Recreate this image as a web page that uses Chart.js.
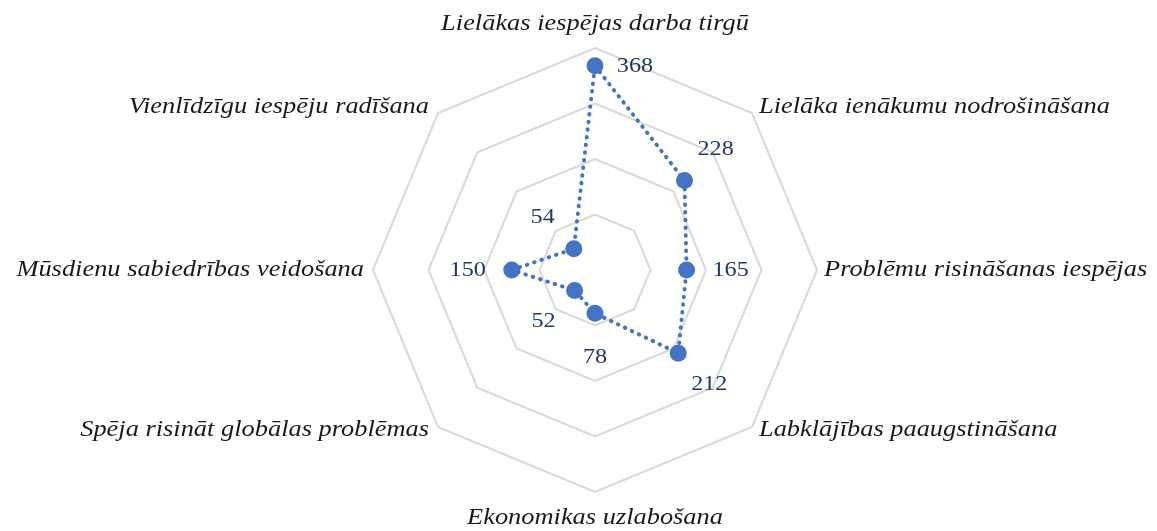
<!DOCTYPE html>
<html lang="lv">
<head>
  <meta charset="UTF-8" />
  <title>Radara diagramma</title>
  <script src="https://cdn.jsdelivr.net/npm/chart.js"></script>
  <style>
    body { margin: 0; background: #fff; }
    canvas { display: block; }
  </style>
</head>
<body>
  <canvas id="grafico" width="1157" height="531"></canvas>

<script>
const categorias = [
  'Lielākas iespējas darba tirgū',
  'Lielāka ienākumu nodrošināšana',
  'Problēmu risināšanas iespējas',
  'Labklājības paaugstināšana',
  'Ekonomikas uzlabošana',
  'Spēja risināt globālas problēmas',
  'Mūsdienu sabiedrības veidošana',
  'Vienlīdzīgu iespēju radīšana'
];
const valores = [368, 228, 165, 212, 78, 52, 150, 54];
const escalaMax = 400;
const escalaPasso = 100;

// texto um pouco esticado na horizontal, como na imagem original
function textoEsticado(ctx, texto, x, y, alinh) {
  ctx.save();
  ctx.translate(x, y);
  ctx.scale(1.1, 1);
  ctx.textAlign = alinh;
  ctx.textBaseline = 'middle';
  ctx.fillText(texto, 0, 0);
  ctx.restore();
}

// nomes das categorias em volta do octogono
const rotulosCategorias = {
  id: 'rotulosCategorias',
  afterDraw(chart) {
    const r = chart.scales.r;
    const ctx = chart.ctx;
    ctx.save();
    ctx.font = 'italic 24px "Liberation Serif"';
    ctx.fillStyle = '#1a1a1a';
    categorias.forEach((texto, i) => {
      const p = r.getPointPosition(i, r.drawingArea);
      const dx = p.x - r.xCenter;
      const dy = p.y - r.yCenter;
      let x = p.x, y = p.y, alinh = 'center';
      if (Math.abs(dx) < 1) {
        y = dy < 0 ? p.y - 24 : p.y + 26;
      } else {
        x = dx > 0 ? p.x + 7 : p.x - 9;
        alinh = dx > 0 ? 'left' : 'right';
        if (dy < -1) y = p.y - 6;
        if (dy > 1) y = p.y + 3;
      }
      textoEsticado(ctx, texto, x, y, alinh);
    });
    ctx.restore();
  }
};

// rotulos dos valores, empurrados para fora do centro
const rotulosValores = {
  id: 'rotulosValores',
  afterDatasetsDraw(chart) {
    const ctx = chart.ctx;
    const meta = chart.getDatasetMeta(0);
    const r = chart.scales.r;
    ctx.save();
    ctx.font = '22px "Liberation Serif"';
    ctx.fillStyle = '#1F3864';
    meta.data.forEach((ponto, i) => {
      const dx = ponto.x - r.xCenter;
      const dy = ponto.y - r.yCenter;
      const dist = Math.sqrt(dx * dx + dy * dy) || 1;
      let x = ponto.x + dx / dist * 44;
      let y = ponto.y + dy / dist * 44;
      if (i === 0) { x = ponto.x + 40; y = ponto.y; }
      textoEsticado(ctx, String(valores[i]), x, y, 'center');
    });
    ctx.restore();
  }
};

const ctx = document.getElementById('grafico').getContext('2d');
new Chart(ctx, {
  type: 'radar',
  data: {
    labels: categorias,
    datasets: [{
      data: valores,
      borderColor: '#4472C4',
      backgroundColor: '#4472C4',
      borderWidth: 4,
      borderDash: [0.5, 7.2],
      borderCapStyle: 'round',
      fill: false,
      pointRadius: 8.5,
      pointHoverRadius: 8.5,
      pointBackgroundColor: '#4472C4',
      pointBorderWidth: 0
    }]
  },
  options: {
    responsive: false,
    animation: false,
    layout: { padding: { left: 50, right: 16, top: 48, bottom: 39 } },
    plugins: {
      legend: { display: false },
      tooltip: { enabled: false }
    },
    scales: {
      r: {
        min: 0,
        max: escalaMax,
        ticks: { display: false, stepSize: escalaPasso },
        angleLines: { display: false },
        grid: { color: '#D9D9D9', lineWidth: 2 },
        pointLabels: { display: false }
      }
    }
  },
  plugins: [rotulosValores, rotulosCategorias]
});
</script>
</body>
</html>
